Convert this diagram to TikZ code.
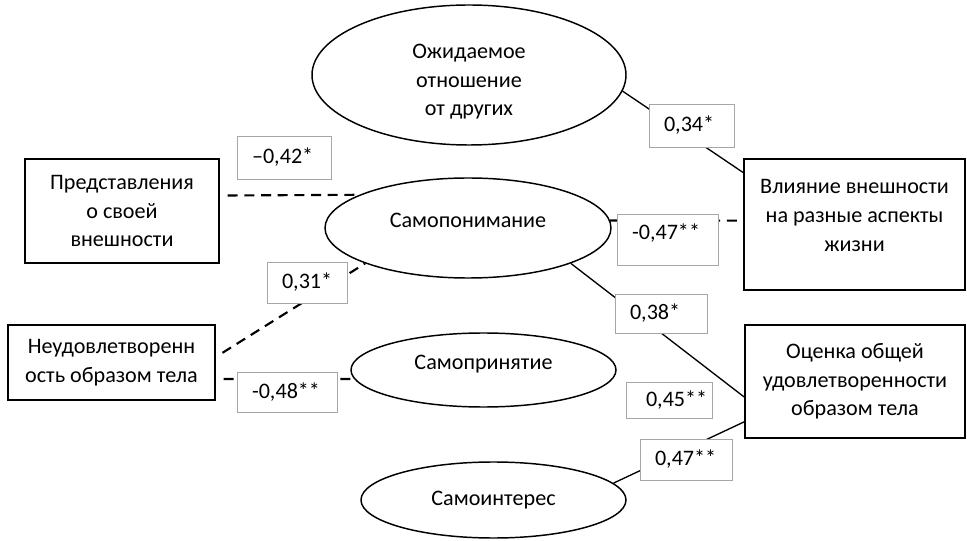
\documentclass[tikz,border=0pt]{standalone}
\usepackage{fontspec}
\setmainfont{Carlito}
\usetikzlibrary{shapes.geometric}

\begin{document}
\begin{tikzpicture}[x=0.75pt, y=-0.75pt,
    font=\fontsize{16.6pt}{21.5pt}\selectfont,
    factor/.style={draw, ellipse, line width=1.1pt, inner sep=0pt, align=center},
    measure/.style={draw, rectangle, line width=1.1pt, inner sep=0pt, align=center},
    coef/.style={draw=gray!70, fill=white, line width=0.6pt, inner ysep=0pt, inner xsep=11.25pt, align=left},
    lifted/.style={text depth=12pt},
    neglink/.style={line width=1.6pt, dash pattern=on 7.5pt off 5pt},
    poslink/.style={line width=1pt}]
    \useasboundingbox (0, 0) rectangle (967, 541);

    \node (expect) [factor, minimum width=235.5pt, minimum height=105pt, text height=61.5pt, text depth=0pt] at (469, 75) {Ожидаемое\\отношение\\от других};
    \node (understand) [factor, lifted, minimum width=214.5pt, minimum height=75pt] at (468, 228) {Самопонимание};
    \node (accept) [factor, lifted, minimum width=198.75pt, minimum height=55.5pt] at (483.5, 370) {Самопринятие};
    \node (interest) [factor, minimum width=198.75pt, minimum height=57pt] at (493.5, 500) {Самоинтерес};

    \node (views) [measure, minimum width=145.5pt, minimum height=78pt] at (122, 211) {Представления\\о своей\\внешности};
    \node (dissat) [measure, minimum width=155.25pt, minimum height=56.25pt] at (111.5, 362.5) {Неудовлетворенн\\ость образом тела};
    \node (impact) [measure, minimum width=165.75pt, minimum height=98.25pt, text height=40pt, text depth=0pt] at (854.5, 224.5) {Влияние внешности\\на разные аспекты\\жизни};
    \node (overall) [measure, minimum width=165pt, minimum height=84.75pt] at (855, 381.5) {Оценка общей\\удовлетворенности\\образом тела};

    \draw[poslink] (expect.-6) -- (impact.155);
    \draw[neglink, shorten <=6pt] (views.9) -- (understand.163);
    \draw[neglink, shorten <=6pt] (dissat.3) -- (understand.199);
    \draw[neglink, shorten <=6pt] (dissat.-9) -- (accept.184);
    \draw[neglink] (understand.3) -- (impact.178);
    \draw[poslink] (understand.-19) -- (overall.188);
    \draw[poslink] (interest.8) -- (overall.200);

    % coefficients, left-aligned in their boxes
    \node (c42) [coef, text width=48pt, minimum height=32.25pt] at (284, 157.5) {–0,42*};
    \node (c31) [coef, text width=37.5pt, minimum height=30.75pt] at (307, 282.5) {0,31*};
    \node (c48) [coef, text width=52.5pt, minimum height=30pt] at (287, 392) {-0,48**};
    \node (c34) [coef, text width=41.25pt, minimum height=32.25pt] at (691.5, 125.5) {0,34*};
    \node (c47a) [coef, lifted, text width=53.25pt, minimum height=38.25pt] at (667.5, 239.5) {-0,47**};
    \node (c38) [coef, text width=46.5pt, minimum height=29.25pt] at (661, 313.5) {0,38*};
    \node (c45) [coef, inner xsep=15pt, text width=34.5pt, minimum height=27pt] at (669, 400) {0,45**};
    \node (c47b) [coef, text width=46.5pt, minimum height=30.75pt] at (686, 459.5) {0,47**};
\end{tikzpicture}
\end{document}
